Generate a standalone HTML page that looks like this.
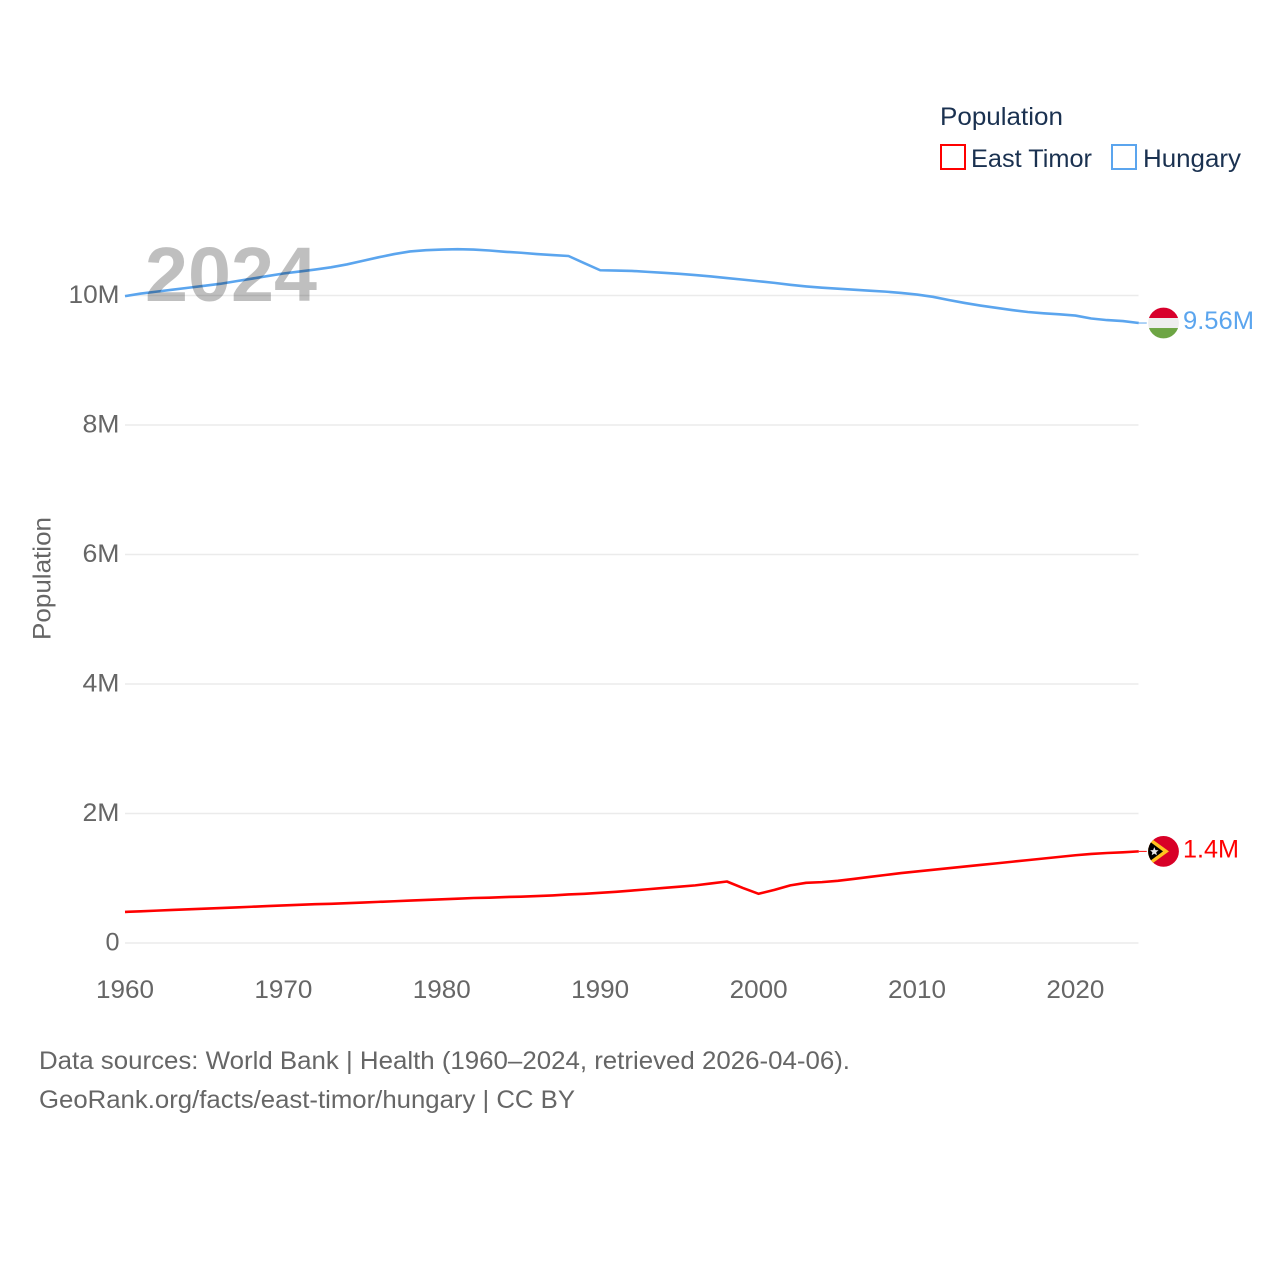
<!DOCTYPE html>
<html lang="en">
<head>
<meta charset="utf-8">
<title>Population: East Timor and Hungary</title>
<style>
html,body{margin:0;padding:0;background:#fff}
svg{display:block}
text{font-family:"Liberation Sans",sans-serif}
</style>
</head>
<body>
<svg id="chart" xmlns="http://www.w3.org/2000/svg" width="1280" height="1280" viewBox="0 0 1280 1280">
  <defs>
    <clipPath id="flag-clip"><circle cx="0" cy="0" r="15.4"/></clipPath>
  </defs>
  <rect x="0" y="0" width="1280" height="1280" fill="#fff"/>
  <g id="grid"></g>
  <g id="y-ticks"></g>
  <g id="x-ticks"></g>
  <text transform="translate(50.5,578.5) rotate(-90)" text-anchor="middle" font-size="25" fill="#666" textLength="123" lengthAdjust="spacingAndGlyphs">Population</text>
  <g id="series"></g>

  <g id="flag-hungary">
    <g clip-path="url(#flag-clip)">
      <rect x="-16" y="-16" width="32" height="11" fill="#d8002c"/>
      <rect x="-16" y="-5" width="32" height="10" fill="#eeeeee"/>
      <rect x="-16" y="5" width="32" height="11" fill="#6da544"/>
    </g>
  </g>
  <g id="flag-timor">
    <g clip-path="url(#flag-clip)">
      <rect x="-16" y="-16" width="32" height="32" fill="#d80027"/>
      <polygon points="-16,-15.5 5.5,0 -16,15.5" fill="#ffc21f"/>
      <polygon points="-16,-11.5 -0.5,0 -16,11.5" fill="#000"/>
      <polygon points="-9.2,-4.2 -8,-1.3 -5,-1.1 -7.3,0.9 -6.6,3.9 -9.2,2.3 -11.8,3.9 -11.1,0.9 -13.4,-1.1 -10.4,-1.3" fill="#e8e8e8"/>
    </g>
  </g>
  <text id="label-hungary" font-size="25" fill="#5ba5ee" textLength="71" lengthAdjust="spacingAndGlyphs">9.56M</text>
  <text id="label-timor" font-size="25" fill="#ff0000" textLength="56" lengthAdjust="spacingAndGlyphs">1.4M</text>

  <text x="145" y="301" font-size="77" font-weight="bold" fill="#000" fill-opacity="0.25" textLength="172" lengthAdjust="spacingAndGlyphs">2024</text>

  <g>
    <text x="940" y="125" font-size="25" fill="#1a3150" textLength="123" lengthAdjust="spacingAndGlyphs">Population</text>
    <g>
      <rect x="941" y="145" width="24" height="24" fill="none" stroke="#ff0000" stroke-width="2"/>
      <text x="971" y="167" font-size="25" fill="#1a3150" textLength="121" lengthAdjust="spacingAndGlyphs">East Timor</text>
    </g>
    <g>
      <rect x="1112" y="145" width="24" height="24" fill="none" stroke="#5ba5ee" stroke-width="2"/>
      <text x="1143" y="167" font-size="25" fill="#1a3150" textLength="98" lengthAdjust="spacingAndGlyphs">Hungary</text>
    </g>
  </g>

  <text x="39" y="1069" font-size="25" fill="#666" textLength="811" lengthAdjust="spacingAndGlyphs">Data sources: World Bank | Health (1960–2024, retrieved 2026-04-06).</text>
  <text x="39" y="1108" font-size="25" fill="#666" textLength="536" lengthAdjust="spacingAndGlyphs">GeoRank.org/facts/east-timor/hungary | CC BY</text>
</svg>
<script>
const years = [1960,1961,1962,1963,1964,1965,1966,1967,1968,1969,1970,1971,1972,1973,1974,1975,1976,1977,1978,1979,1980,1981,1982,1983,1984,1985,1986,1987,1988,1989,1990,1991,1992,1993,1994,1995,1996,1997,1998,1999,2000,2001,2002,2003,2004,2005,2006,2007,2008,2009,2010,2011,2012,2013,2014,2015,2016,2017,2018,2019,2020,2021,2022,2023,2024];
const hungary = [9.99,10.03,10.06,10.09,10.12,10.15,10.18,10.22,10.26,10.30,10.34,10.37,10.40,10.435,10.48,10.535,10.59,10.64,10.68,10.70,10.71,10.715,10.71,10.695,10.675,10.66,10.64,10.625,10.61,10.50,10.39,10.385,10.38,10.365,10.35,10.335,10.315,10.295,10.27,10.245,10.22,10.195,10.165,10.14,10.12,10.105,10.09,10.075,10.06,10.04,10.015,9.98,9.93,9.885,9.845,9.81,9.775,9.745,9.725,9.71,9.69,9.645,9.62,9.605,9.575];
const eastTimor = [0.48,0.49,0.50,0.51,0.52,0.53,0.54,0.55,0.56,0.57,0.58,0.59,0.60,0.605,0.615,0.625,0.635,0.645,0.655,0.665,0.675,0.685,0.695,0.70,0.71,0.715,0.725,0.735,0.75,0.76,0.775,0.79,0.81,0.83,0.85,0.87,0.89,0.92,0.95,0.85,0.76,0.82,0.89,0.93,0.94,0.96,0.99,1.02,1.05,1.08,1.105,1.13,1.155,1.18,1.205,1.23,1.255,1.28,1.305,1.33,1.355,1.375,1.39,1.40,1.415];
const yTickValues = [0,2,4,6,8,10];
const yTickLabels = ["0","2M","4M","6M","8M","10M"];
const xTickValues = [1960,1970,1980,1990,2000,2010,2020];

const SVGNS = 'http://www.w3.org/2000/svg';
function xScale(year){ return 125 + (year - 1960) * 15.84; }
function yScale(value){ return 943 - value * 64.75; }
function make(tag, parent, attrs){
  const el = document.createElementNS(SVGNS, tag);
  for (const k in attrs) el.setAttribute(k, attrs[k]);
  parent.appendChild(el);
  return el;
}

const grid = document.getElementById('grid');
const yTicks = document.getElementById('y-ticks');
const yWidths = {1:14,2:37,3:51};
yTickValues.forEach(function(v,i){
  const line = make('line', grid, {x1:125, x2:1138.5, y1:yScale(v), y2:yScale(v), stroke:'#ebebeb', 'stroke-width':1.5});
  
  
  const t = make('text', yTicks, {x:119.5, y:yScale(v)+7.5, 'text-anchor':'end', 'font-size':25, fill:'#666', textLength:yWidths[yTickLabels[i].length], lengthAdjust:'spacingAndGlyphs'});
  
  
  t.textContent = yTickLabels[i];
});

const xTicks = document.getElementById('x-ticks');
xTickValues.forEach(function(v){
  const t = make('text', xTicks, {x:xScale(v), y:998, 'text-anchor':'middle', 'font-size':25, fill:'#666', textLength:58, lengthAdjust:'spacingAndGlyphs'});
  
  
  t.textContent = String(v);
});

const seriesGroup = document.getElementById('series');
function drawSeries(values, color, name){
  const d = values.map(function(v,i){ return (i ? 'L' : 'M') + xScale(years[i]).toFixed(2) + ' ' + yScale(v).toFixed(2); }).join('');
  const p = make('path', seriesGroup, {d:d, fill:'none', stroke:color, 'stroke-width':2.6, 'stroke-linejoin':'round'});
  
  
  const last = values[values.length-1];
  const lastX = xScale(years[years.length-1]);
  const c = make('line', seriesGroup, {x1:lastX, x2:lastX+8, y1:yScale(last), y2:yScale(last), stroke:color, 'stroke-width':1});
  
  
}
drawSeries(eastTimor, '#ff0000', 'east-timor-line');
drawSeries(hungary, '#5ba5ee', 'hungary-line');

function placeEnd(flagId, labelId, values){
  const last = values[values.length-1];
  const y = yScale(last);
  document.getElementById(flagId).setAttribute('transform', 'translate(1163.5,' + y + ')');
  const l = document.getElementById(labelId);
  l.setAttribute('x', 1183);
  l.setAttribute('y', y + 6);
}
placeEnd('flag-hungary', 'label-hungary', hungary);
placeEnd('flag-timor', 'label-timor', eastTimor);
</script>
</body>
</html>
